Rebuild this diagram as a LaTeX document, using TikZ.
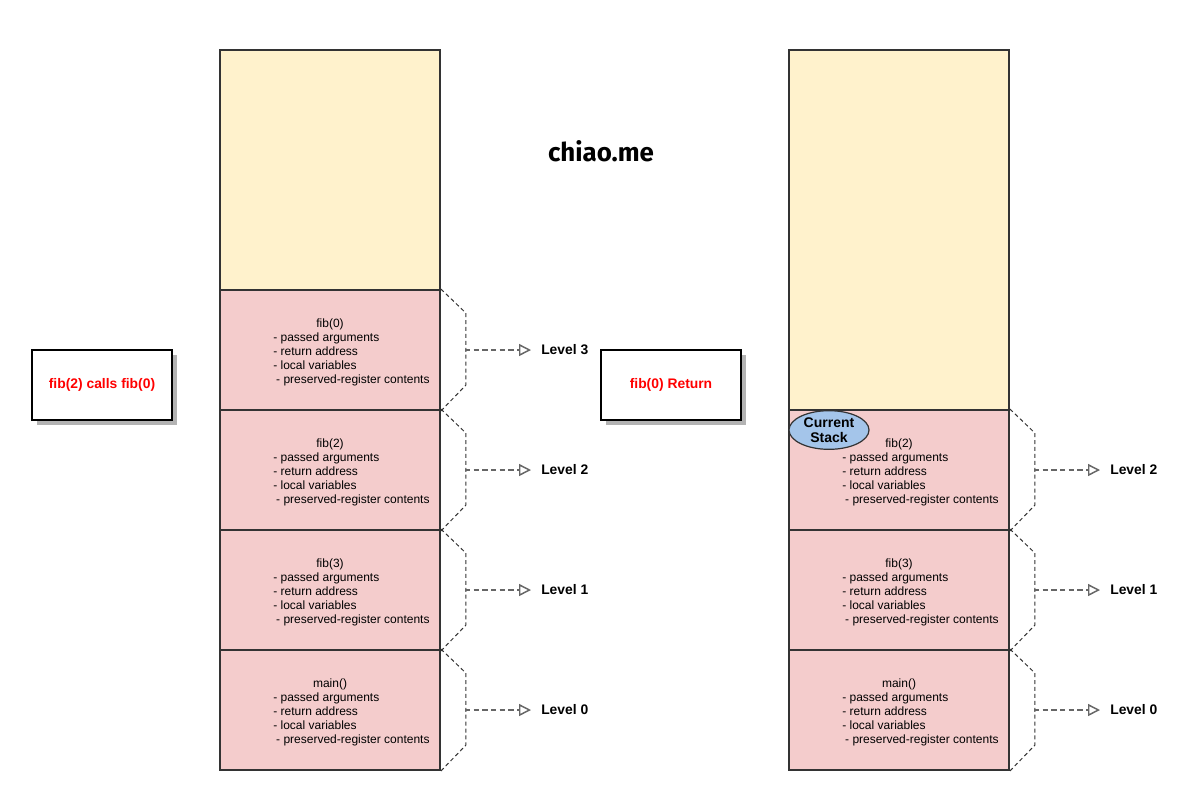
\documentclass[tikz,border=0pt]{standalone}
\usepackage{fontspec}
\setmainfont{Liberation Sans}
\newfontfamily\titlefont{Fira Sans}
\usetikzlibrary{arrows.meta,shapes.geometric}
\definecolor{yel}{HTML}{FFF2CC}
\definecolor{pinkc}{HTML}{F4CCCC}
\definecolor{edgec}{HTML}{333333}
\definecolor{bluec}{HTML}{A4C5EA}
\definecolor{arrc}{HTML}{666666}
\definecolor{shadowc}{HTML}{B3B3B3}
\tikzset{
  freebox/.style={draw=edgec, fill=yel, line width=1.4pt, minimum width=165pt, inner sep=0pt},
  frame/.style={draw=edgec, fill=pinkc, line width=1.4pt, minimum width=165pt, minimum height=90pt, inner sep=0pt},
  ftitle/.style={inner sep=0pt, font=\fontsize{9}{10.5}\selectfont},
  flist/.style={inner sep=0pt, anchor=west, align=left, font=\fontsize{9}{10.5}\selectfont},
  brace/.style={draw=edgec, line width=0.75pt, dash pattern=on 3pt off 2.2pt},
  lvlarrow/.style={draw=arrc, line width=1.1pt, dash pattern=on 4pt off 2.5pt, -{Triangle[open, length=9pt, width=9pt, fill=white]}},
  lvl/.style={anchor=west, inner sep=0pt, font=\fontsize{10.4}{12}\selectfont\bfseries},
  callbox/.style={draw=black, fill=white, line width=1.5pt, minimum width=105pt, minimum height=52.5pt, inner sep=0pt, font=\fontsize{10.4}{12}\selectfont\bfseries, text=red},
  shadowbox/.style={fill=shadowc, minimum width=105pt, minimum height=52.5pt, inner sep=0pt},
  curstack/.style={ellipse, draw=edgec, fill=bluec, line width=0.9pt, minimum width=60pt, minimum height=29pt, inner sep=0pt, align=center, font=\fontsize{10.5}{11}\selectfont\bfseries}
}
\newcommand{\framelist}{- passed arguments\\- return address\\- local variables\\\hspace{2.2pt}- preserved-register contents}
\begin{document}
\begin{tikzpicture}[x=0.75pt,y=-0.75pt]
\useasboundingbox[fill=white] (0,0) rectangle (1201,790);

% ---- left stack ----
\node[freebox, minimum height=180pt] (lfree) at (330,170) {};
\node[frame] (lb3) at (330,350) {};
\node[frame] (lb2) at (330,470) {};
\node[frame] (lb1) at (330,590) {};
\node[frame] (lb0) at (330,710) {};
\node[ftitle] (lt3) at (330,324) {fib(0)};
\node[flist] (ll3) at (273,359) {\framelist};
\node[ftitle] (lt2) at (330,444) {fib(2)};
\node[flist] (ll2) at (273,479) {\framelist};
\node[ftitle] (lt1) at (330,564) {fib(3)};
\node[flist] (ll1) at (273,599) {\framelist};
\node[ftitle] (lt0) at (330,684) {main()};
\node[flist] (ll0) at (273,719) {\framelist};

\foreach \b/\y/\n in {lb3/350/3, lb2/470/2, lb1/590/1, lb0/710/0}{
  \draw[brace] (\b.north east) -- ++(25,24) -- ++(0,72) -- (\b.south east);
  \coordinate (ls\n) at (465,\y);
  \coordinate (le\n) at (531,\y);
  \node[lvl] (lL\n) at (541,\y) {Level \n};
  \draw[lvlarrow] (ls\n) -- (le\n);
}

% ---- right stack ----
\node[freebox, minimum height=270pt] (rfree) at (899,230) {};
\node[frame] (rb2) at (899,470) {};
\node[frame] (rb1) at (899,590) {};
\node[frame] (rb0) at (899,710) {};
\node[ftitle] (rt2) at (899,444) {fib(2)};
\node[flist] (rl2) at (842,479) {\framelist};
\node[ftitle] (rt1) at (899,564) {fib(3)};
\node[flist] (rl1) at (842,599) {\framelist};
\node[ftitle] (rt0) at (899,684) {main()};
\node[flist] (rl0) at (842,719) {\framelist};

\foreach \b/\y/\n in {rb2/470/2, rb1/590/1, rb0/710/0}{
  \draw[brace] (\b.north east) -- ++(25,24) -- ++(0,72) -- (\b.south east);
  \coordinate (rs\n) at (1034,\y);
  \coordinate (re\n) at (1100,\y);
  \node[lvl] (rL\n) at (1110,\y) {Level \n};
  \draw[lvlarrow] (rs\n) -- (re\n);
}

\node[curstack] (cur) at (829,430) {Current\\Stack};

% ---- call boxes ----
\node[shadowbox] (lsh) at (106.5,389.5) {};
\node[callbox] (lcall) at (102,385) {fib(2) calls fib(0)};
\node[shadowbox] (rsh) at (675.5,389.5) {};
\node[callbox] (rcall) at (671,385) {fib(0) Return};

% ---- title ----
\node[inner sep=0pt, font=\titlefont\fontsize{19.4}{22}\selectfont\bfseries] (title) at (601,151) {chiao.me};
\end{tikzpicture}
\end{document}
